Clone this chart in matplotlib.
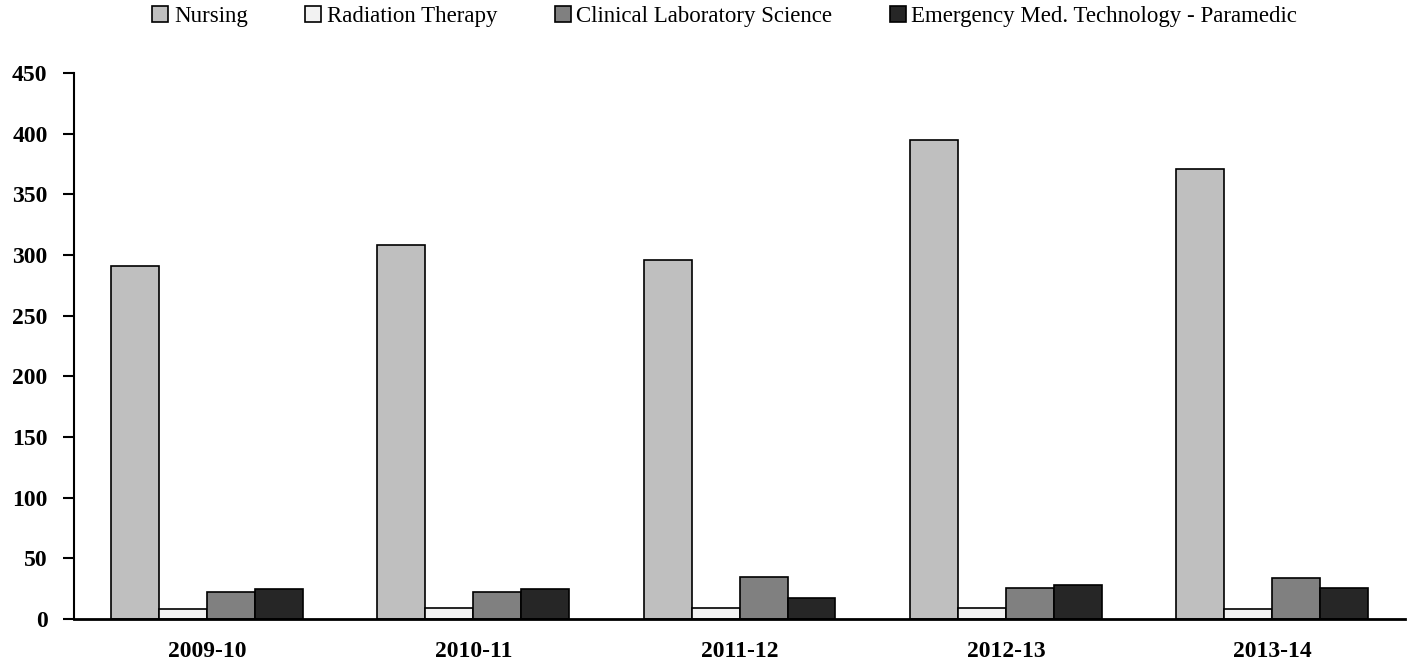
import numpy as np
import matplotlib
matplotlib.use("Agg")
from matplotlib import pyplot as plt

plt.rcParams["font.family"] = ["Liberation Serif", "DejaVu Serif"]

years = ["2009-10", "2010-11", "2011-12", "2012-13", "2013-14"]
programs = ["Nursing", "Radiation Therapy", "Clinical Laboratory Science",
            "Emergency Med. Technology - Paramedic"]
nursing = [291, 308, 296, 395, 371]
radiation = [8, 9, 9, 9, 8]
clinical = [22, 22, 35, 26, 34]
emt = [25, 25, 17, 28, 26]
colors = ["#bfbfbf", "#f2f2f2", "#808080", "#262626"]

fig = plt.figure(figsize=(14.21, 6.65), dpi=100)
ax = fig.add_axes([0.052, 0.069, 0.937, 0.821])

x = np.arange(len(years))
w = 0.18
series = [nursing, radiation, clinical, emt]
for i, (vals, col, name) in enumerate(zip(series, colors, programs)):
    ax.bar(x + (i - 1.5) * w, vals, w, color=col, edgecolor="black",
           linewidth=1.2, label=name)

ax.set_xlim(-0.5, len(years) - 0.5)
ax.set_ylim(0, 450)
ax.set_yticks(range(0, 451, 50))
ax.set_xticks(x)
ax.set_xticklabels(years, fontsize=17, fontweight="bold")
ax.tick_params(axis="y", labelsize=17, length=8, width=1.5, direction="out", pad=11)
ax.tick_params(axis="x", length=0, pad=16)
for t in ax.get_yticklabels():
    t.set_fontweight("bold")
for s in ["top", "right"]:
    ax.spines[s].set_visible(False)
ax.spines["left"].set_linewidth(1.5)
ax.spines["bottom"].set_linewidth(2)

ax.legend(loc="center", bbox_to_anchor=(0.51, 0.975), bbox_transform=fig.transFigure,
          ncol=4, frameon=False, fontsize=16.5, handlelength=0.7, handleheight=0.7,
          handletextpad=0.25, columnspacing=2.5)

fig.savefig("out.png", dpi=100)
